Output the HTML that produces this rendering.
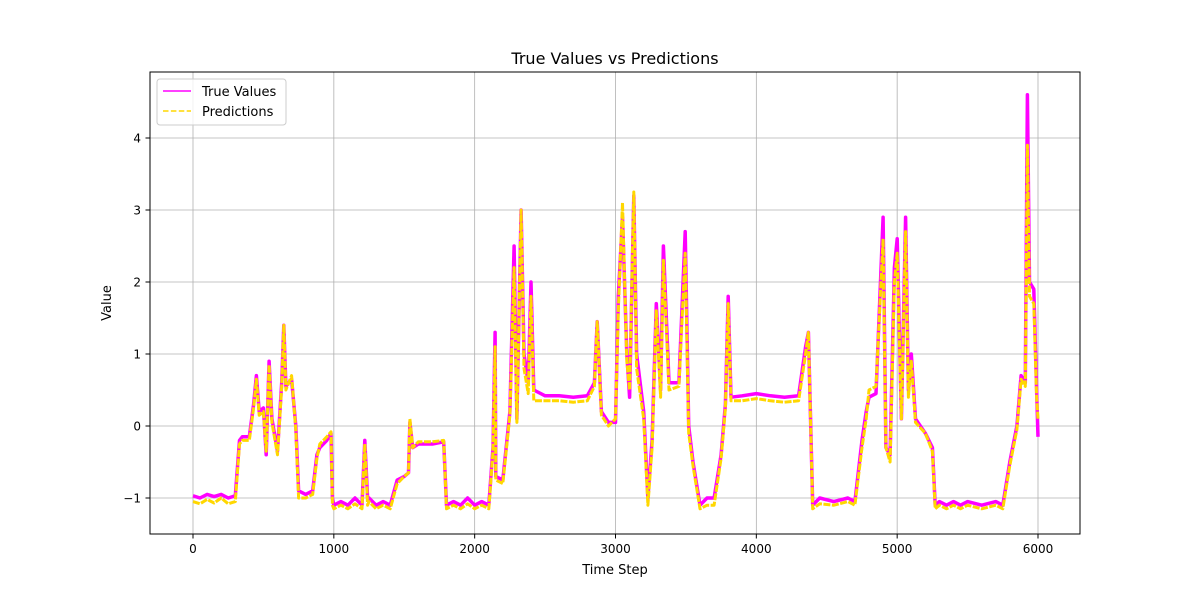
<!DOCTYPE html>
<html><head><meta charset="utf-8">
<style>
body{margin:0;background:#fff;font-family:"Liberation Sans","DejaVu Sans",sans-serif;}
svg text{font-family:"DejaVu Sans","Liberation Sans",sans-serif;}
</style></head>
<body>
<svg id="chart" width="1200" height="600" xmlns="http://www.w3.org/2000/svg">
<rect width="1200" height="600" fill="#fff"/>
<g id="grid"></g>
<g id="series"></g>
<rect x="150" y="72" width="930" height="462" fill="none" stroke="#000" stroke-width="1"/>
<g id="ticks"></g>
<text x="615" y="64" text-anchor="middle" font-size="16">True Values vs Predictions</text>
<text x="615" y="574" text-anchor="middle" font-size="13">Time Step</text>
<text x="111" y="303" text-anchor="middle" font-size="13" transform="rotate(-90 111 303)">Value</text>
<g>
<rect x="157" y="79" width="129" height="46" rx="3" fill="#fff" fill-opacity="0.8" stroke="#ccc"/>
<line x1="163" y1="91" x2="191" y2="91" stroke="#ff00ff" stroke-width="1.5"/>
<text x="202" y="96" font-size="13">True Values</text>
<line x1="163" y1="111" x2="191" y2="111" stroke="#ffd700" stroke-width="1.5" stroke-dasharray="5.5,2.4"/>
<text x="202" y="116" font-size="13">Predictions</text>
</g>
</svg>
<script>
const steps = [0,50,100,150,200,250,300,330,350,400,430,450,470,500,520,540,560,600,630,645,660,700,730,750,800,850,880,900,950,980,990,1000,1050,1100,1150,1200,1220,1240,1250,1300,1350,1400,1450,1500,1530,1540,1560,1600,1700,1780,1800,1850,1900,1950,2000,2050,2100,2130,2145,2150,2200,2250,2280,2300,2330,2350,2380,2400,2420,2500,2600,2700,2800,2850,2870,2900,2950,3000,3020,3050,3080,3100,3130,3150,3200,3230,3260,3290,3320,3340,3380,3450,3495,3520,3550,3600,3650,3700,3750,3780,3800,3820,3900,4000,4100,4200,4300,4350,4370,4400,4450,4550,4650,4700,4750,4780,4800,4850,4900,4920,4950,4980,5000,5030,5060,5080,5100,5130,5200,5250,5270,5300,5350,5400,5450,5500,5600,5700,5750,5800,5850,5880,5910,5925,5940,5970,5990,6000];
const trueVals = [-0.97,-1.0,-0.95,-0.98,-0.95,-1.0,-0.97,-0.2,-0.15,-0.15,0.3,0.7,0.2,0.25,-0.4,0.9,0.1,-0.35,0.6,1.4,0.55,0.65,0,-0.9,-0.95,-0.9,-0.4,-0.3,-0.2,-0.1,-1.0,-1.1,-1.05,-1.1,-1.0,-1.1,-0.2,-1.0,-1.0,-1.1,-1.05,-1.1,-0.75,-0.7,-0.65,0.05,-0.3,-0.25,-0.25,-0.22,-1.1,-1.05,-1.1,-1.0,-1.1,-1.05,-1.1,-0.3,1.3,-0.7,-0.75,0.2,2.5,0.1,3.0,1.0,0.6,2.0,0.5,0.42,0.42,0.4,0.42,0.6,1.45,0.2,0.05,0.05,1.8,2.9,1.0,0.4,3.2,1.0,0.2,-1.0,-0.2,1.7,0.5,2.5,0.6,0.6,2.7,0,-0.5,-1.1,-1.0,-1.0,-0.4,0.3,1.8,0.4,0.42,0.45,0.42,0.4,0.42,1.1,1.3,-1.1,-1.0,-1.05,-1.0,-1.05,-0.2,0.2,0.4,0.45,2.9,-0.3,-0.4,2.2,2.6,0.1,2.9,0.5,1.0,0.1,-0.1,-0.3,-1.1,-1.05,-1.1,-1.05,-1.1,-1.05,-1.1,-1.05,-1.1,-0.5,0.0,0.7,0.6,4.6,2.0,1.9,0.5,-0.15];
const predVals = [-1.05,-1.08,-1.02,-1.07,-1.0,-1.08,-1.05,-0.25,-0.2,-0.2,0.25,0.65,0.15,0.2,-0.35,0.85,0.05,-0.4,0.55,1.4,0.5,0.7,-0.05,-1.0,-1.0,-0.95,-0.45,-0.25,-0.15,-0.08,-1.1,-1.15,-1.1,-1.15,-1.08,-1.15,-0.25,-1.1,-1.05,-1.15,-1.1,-1.15,-0.8,-0.7,-0.65,0.1,-0.3,-0.22,-0.22,-0.2,-1.15,-1.1,-1.15,-1.08,-1.15,-1.1,-1.15,-0.35,1.1,-0.75,-0.8,0.15,2.2,0.05,3.0,0.8,0.45,1.8,0.35,0.35,0.35,0.33,0.35,0.55,1.45,0.15,0.0,0.1,1.6,3.1,0.9,0.5,3.25,0.8,0.1,-1.1,-0.3,1.6,0.4,2.3,0.5,0.55,2.4,-0.1,-0.55,-1.15,-1.1,-1.1,-0.45,0.25,1.7,0.35,0.35,0.38,0.35,0.33,0.35,1.0,1.3,-1.15,-1.08,-1.1,-1.05,-1.1,-0.3,0.1,0.5,0.55,2.6,-0.3,-0.5,2.0,2.4,0.1,2.7,0.4,0.9,0.05,-0.1,-0.35,-1.15,-1.1,-1.15,-1.1,-1.15,-1.1,-1.15,-1.1,-1.15,-0.55,-0.05,0.65,0.55,3.9,1.8,1.7,0.4,0.1];
const xTicks = [0,1000,2000,3000,4000,5000,6000];
const yTicks = [-1,0,1,2,3,4];

const xS = v => 193 + (v/6000)*(1038-193);
const yS = v => 426 - v*72;
const NS = 'http://www.w3.org/2000/svg';
const grid = document.getElementById('grid');
const ticks = document.getElementById('ticks');
const series = document.getElementById('series');
function mk(tag, attrs){const e=document.createElementNS(NS,tag);for(const k in attrs)e.setAttribute(k,attrs[k]);return e;}

xTicks.forEach(t=>{
  const x=xS(t);
  const g=mk('line',{x1:x,x2:x,y1:72,y2:534,stroke:'#b0b0b0','stroke-width':0.8});
  
  
  grid.appendChild(g);
  const tk=mk('line',{x1:x,x2:x,y1:534,y2:538.5,stroke:'#000'});
  
  
  ticks.appendChild(tk);
  const tx=mk('text',{x:x,y:553,'text-anchor':'middle','font-size':12});
  
  
  tx.textContent=t; ticks.appendChild(tx);
});
yTicks.forEach(t=>{
  const y=yS(t);
  const g=mk('line',{x1:150,x2:1080,y1:y,y2:y,stroke:'#b0b0b0','stroke-width':0.8});
  
  
  grid.appendChild(g);
  const tk=mk('line',{x1:145.5,x2:150,y1:y,y2:y,stroke:'#000'});
  
  
  ticks.appendChild(tk);
  const tx=mk('text',{x:141,y:y+4.5,'text-anchor':'end','font-size':12});
  
  
  tx.textContent=(t<0?'\u2212'+(-t):t); ticks.appendChild(tx);
});
function path(vals){return steps.map((s,i)=>(i?'L':'M')+xS(s).toFixed(1)+','+yS(vals[i]).toFixed(1)).join(' ');}
const p1=mk('path',{d:path(trueVals),fill:'none',stroke:'#ff00ff','stroke-width':3.5,'stroke-linejoin':'round'});


series.appendChild(p1);
const p2=mk('path',{d:path(predVals),fill:'none',stroke:'#ffd700','stroke-width':3,'stroke-dasharray':'7,1.5','stroke-linejoin':'round'});


series.appendChild(p2);
</script>
</body></html>
